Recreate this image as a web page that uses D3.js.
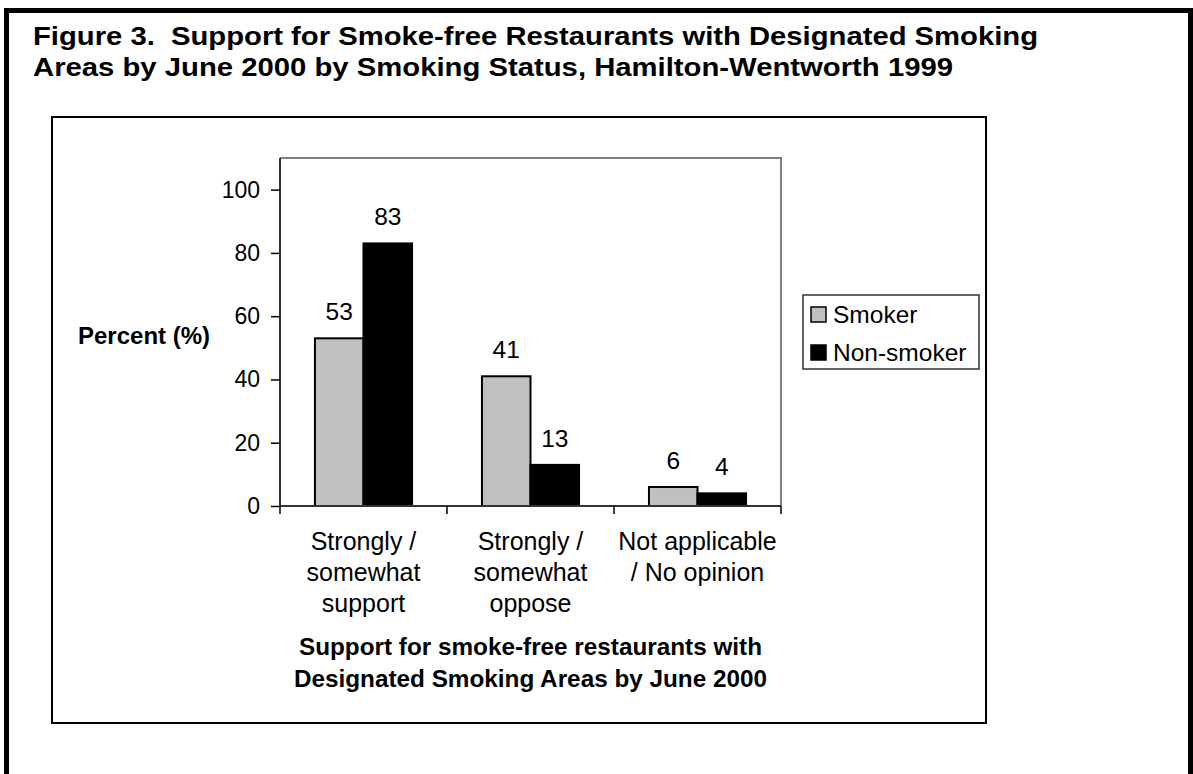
<!DOCTYPE html>
<html>
<head>
<meta charset="utf-8">
<script src="https://cdn.jsdelivr.net/npm/d3@7"></script>
<style>
  html, body { margin: 0; padding: 0; background: #fff; }
  svg { display: block; font-family: "Liberation Sans", Arial, Helvetica, sans-serif; }
  text { white-space: pre; }
</style>
</head>
<body>
<svg id="chart" width="1193" height="774"></svg>
<script>
// Survey responses, percent of each smoking-status group
const categories = [
  ["Strongly /", "somewhat", "support"],
  ["Strongly /", "somewhat", "oppose"],
  ["Not applicable", "/ No opinion"]
];
const seriesNames = ["Smoker", "Non-smoker"];
const smokerValues = [53, 41, 6];
const nonSmokerValues = [83, 13, 4];
const yTicks = [0, 20, 40, 60, 80, 100];
const seriesColors = ["#c0c0c0", "#000000"];

const titleLines = [
  "Figure 3.  Support for Smoke-free Restaurants with Designated Smoking",
  "Areas by June 2000 by Smoking Status, Hamilton-Wentworth 1999"
];
const titleWidths = [1005, 920];
const xTitleLines = [
  "Support for smoke-free restaurants with",
  "Designated Smoking Areas by June 2000"
];
const yTitle = "Percent (%)";

const svg = d3.select("#chart");

// Page frame
svg.append("rect").attr("x", 6.5).attr("y", 10.5).attr("width", 1184).attr("height", 800)
  .attr("fill", "none").attr("stroke", "#000").attr("stroke-width", 5);

// Figure title
svg.append("g").selectAll("text").data(titleLines).join("text")
  .attr("xml:space", "preserve")
  .attr("x", 33).attr("y", (d, i) => 45 + i * 31)
  .attr("font-size", 26).attr("font-weight", "bold").attr("fill", "#000")
  .attr("textLength", (d, i) => titleWidths[i]).attr("lengthAdjust", "spacingAndGlyphs")
  .text(d => d);

// Chart area box
svg.append("rect").attr("x", 52).attr("y", 117).attr("width", 934).attr("height", 606)
  .attr("fill", "#fff").attr("stroke", "#000").attr("stroke-width", 2);

// Plot geometry
const plot = { left: 280, right: 781, top: 158, bottom: 506 };
const keys = categories.map(c => c.join(" "));
const x = d3.scaleBand().domain(keys).range([plot.left, plot.right]).paddingInner(0).paddingOuter(0);
const xs = d3.scaleBand().domain(seriesNames).range([0, x.bandwidth()]).paddingInner(0).paddingOuter(0.72);
const y = d3.scaleLinear().domain([0, 110]).range([plot.bottom, plot.top]);

// Plot area border (top and right in grey)
svg.append("path")
  .attr("d", `M${plot.left},${plot.top}H${plot.right}V${plot.bottom}`)
  .attr("fill", "none").attr("stroke", "#808080").attr("stroke-width", 2);

// Bars
const rows = keys.map((k, i) => ({ key: k, values: [smokerValues[i], nonSmokerValues[i]] }));
const groups = svg.append("g").selectAll("g").data(rows).join("g")
  .attr("transform", d => `translate(${x(d.key)},0)`);

groups.selectAll("rect").data(d => d.values.map((v, j) => ({ name: seriesNames[j], v, j })))
  .join("rect")
  .attr("x", d => xs(d.name))
  .attr("y", d => y(d.v))
  .attr("width", xs.bandwidth())
  .attr("height", d => y(0) - y(d.v))
  .attr("fill", d => seriesColors[d.j])
  .attr("stroke", "#000").attr("stroke-width", 2);

// Value labels
groups.selectAll("text").data(d => d.values.map((v, j) => ({ name: seriesNames[j], v })))
  .join("text")
  .attr("x", d => xs(d.name) + xs.bandwidth() / 2)
  .attr("y", d => y(d.v) - 18)
  .attr("text-anchor", "middle").attr("font-size", 24.5).attr("fill", "#000")
  .text(d => d.v);

// Y axis
const yAxis = svg.append("g").attr("transform", `translate(${plot.left},0)`)
  .call(d3.axisLeft(y).tickValues(yTicks).tickSize(9).tickPadding(11).tickFormat(d3.format("d")));
yAxis.select(".domain").attr("stroke", "#333").attr("stroke-width", 2)
  .attr("d", `M0,${plot.top}V${plot.bottom}`);
yAxis.selectAll(".tick line").attr("stroke", "#000").attr("stroke-width", 1.5);
yAxis.selectAll(".tick text").attr("font-size", 23).attr("fill", "#000")
  .attr("font-family", "Liberation Sans, Arial, sans-serif");

// X axis
const xAxis = svg.append("g").attr("transform", `translate(0,${plot.bottom})`);
xAxis.append("line").attr("x1", plot.left).attr("x2", plot.right)
  .attr("stroke", "#333").attr("stroke-width", 2);
const bounds = keys.map(k => x(k)).concat([plot.right]);
xAxis.selectAll("line.tick").data(bounds).join("line").attr("class", "tick")
  .attr("x1", d => d).attr("x2", d => d).attr("y1", 0).attr("y2", 8)
  .attr("stroke", "#000").attr("stroke-width", 1.5);

// Category labels
const catLabels = svg.append("g").selectAll("text").data(categories).join("text")
  .attr("text-anchor", "middle").attr("font-size", 25).attr("fill", "#000");
catLabels.selectAll("tspan").data((d, i) => d.map(line => ({ line, key: keys[i] })))
  .join("tspan")
  .attr("x", d => x(d.key) + x.bandwidth() / 2)
  .attr("y", (d, i) => 550 + i * 31)
  .text(d => d.line);

// Axis titles
svg.append("g").selectAll("text").data(xTitleLines).join("text")
  .attr("x", (plot.left + plot.right) / 2).attr("y", (d, i) => 655 + i * 32)
  .attr("text-anchor", "middle").attr("font-size", 24.3).attr("font-weight", "bold")
  .text(d => d);

svg.append("text").attr("x", 78).attr("y", 344)
  .attr("font-size", 24).attr("font-weight", "bold").text(yTitle);

// Legend
const legend = svg.append("g");
legend.append("rect").attr("x", 803).attr("y", 295).attr("width", 176).attr("height", 74)
  .attr("fill", "#fff").attr("stroke", "#333").attr("stroke-width", 1.5);
const items = legend.selectAll("g").data(seriesNames).join("g")
  .attr("transform", (d, i) => `translate(811,${307 + i * 38})`);
items.append("rect").attr("width", 15).attr("height", 15)
  .attr("fill", (d, i) => seriesColors[i]).attr("stroke", "#000").attr("stroke-width", 1.5);
items.append("text").attr("x", 22).attr("y", 16)
  .attr("font-size", 24.5).attr("fill", "#000").text(d => d);
</script>
</body>
</html>
